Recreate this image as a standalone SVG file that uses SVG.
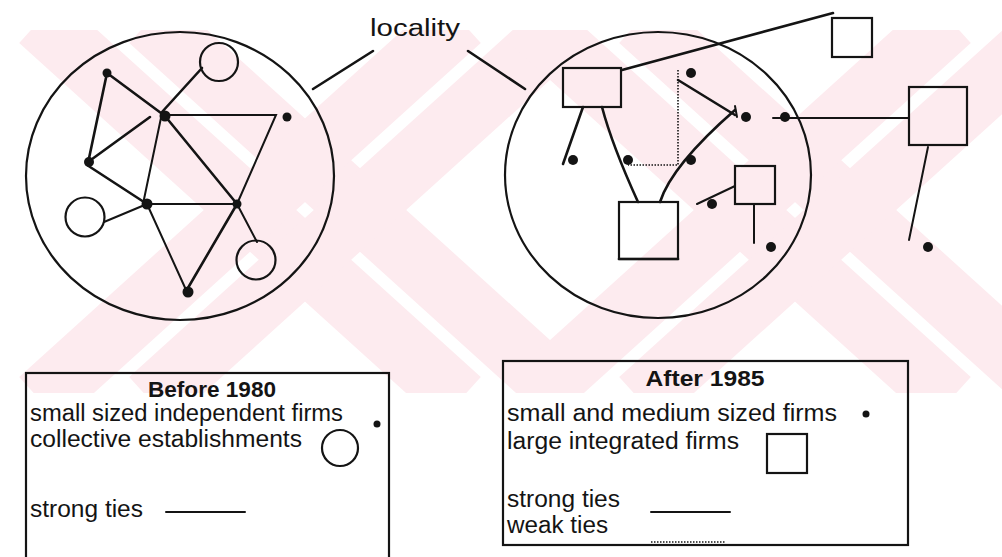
<svg xmlns="http://www.w3.org/2000/svg" width="1002" height="557" viewBox="0 0 1002 557">
<style>
.ln{stroke:#141414;stroke-width:2.6;fill:none;stroke-linecap:round}
.th{stroke-width:2}
.dt{fill:#141414}
.sh{fill:none;stroke:#141414;stroke-width:2.2}
.bx{fill:none;stroke:#141414;stroke-width:2.2}
.weak{stroke:#141414;stroke-width:1.6;stroke-dasharray:1.5 1.5;fill:none}
.lbl{font-family:"Liberation Sans",Arial,sans-serif;font-size:23.5px;fill:#141414}
.ttl{font-weight:bold;font-size:22.5px}
</style>
<defs>
<clipPath id="wmclip"><rect x="0" y="30" width="1002" height="363"/></clipPath>
</defs>
<rect width="1002" height="557" fill="#ffffff"/>
<g id="watermark" clip-path="url(#wmclip)">
<g stroke="#fdebef" stroke-width="62" fill="none">
<line x1="40" y1="20" x2="460" y2="400"/>
<line x1="150" y1="20" x2="570" y2="400"/>
<line x1="460" y1="20" x2="40" y2="400"/>
<line x1="570" y1="20" x2="150" y2="400"/>
<line x1="530" y1="20" x2="950" y2="400"/>
<line x1="640" y1="20" x2="1060" y2="400"/>
<line x1="950" y1="20" x2="530" y2="400"/>
<line x1="1060" y1="20" x2="640" y2="400"/>
</g>
</g>
<g id="locality">
<text class="lbl" x="370" y="36" font-size="28" textLength="90" lengthAdjust="spacingAndGlyphs">locality</text>
<line class="ln" x1="313" y1="89" x2="373" y2="51"/>
<line class="ln" x1="468" y1="51" x2="525" y2="89"/>
</g>
<g id="connectors">
<g id="before-edges">
<line class="ln" x1="107" y1="73" x2="165" y2="116"/>
<line class="ln" x1="107" y1="73" x2="88" y2="163"/>
<line class="ln" x1="88" y1="162" x2="150" y2="117"/>
<line class="ln" x1="87" y1="165" x2="147" y2="204"/>
<line class="ln" x1="162" y1="112" x2="202" y2="68"/>
<polyline class="ln th" points="165,115 276,115 237,204"/>
<line class="ln" x1="165" y1="116" x2="237" y2="204"/>
<line class="ln th" x1="162" y1="113" x2="143" y2="204"/>
<line class="ln th" x1="147" y1="204" x2="237" y2="204"/>
<line class="ln th" x1="147" y1="204" x2="104" y2="222"/>
<line class="ln th" x1="147" y1="204" x2="187" y2="292"/>
<line class="ln" x1="237" y1="204" x2="185" y2="293"/>
<line class="ln th" x1="237" y1="204" x2="257" y2="242"/>
</g>
<g id="after-edges">
<line class="ln" x1="622" y1="70" x2="833" y2="13"/>
<line class="ln th" x1="909" y1="118" x2="773" y2="118"/>
<line class="ln th" x1="928" y1="147" x2="909" y2="240"/>
<line class="ln" x1="583" y1="107" x2="563" y2="164"/>
<path class="ln" d="M602,107 Q612,145 638,202"/>
<path class="ln" d="M660,202 Q672,165 735,110"/>
<line class="ln th" x1="735" y1="106" x2="737" y2="117"/>
<line class="ln" x1="678" y1="80" x2="735" y2="115"/>
<polyline class="weak" points="678,70 678,165 628,165"/>
<line class="ln th" x1="735" y1="186" x2="697" y2="204"/>
<line class="ln th" x1="754" y1="204" x2="754" y2="243"/>
</g>
</g>
<g id="before">
<ellipse class="sh" cx="180" cy="176" rx="154" ry="144"/>
<circle id="n-a" class="dt" cx="107" cy="73" r="4.5"/>
<circle id="n-b" class="dt" cx="165" cy="116" r="5.5"/>
<circle id="n-c" class="dt" cx="287" cy="117" r="4.5"/>
<circle id="n-d" class="dt" cx="89" cy="162" r="5"/>
<circle id="n-e" class="dt" cx="147" cy="204" r="5.5"/>
<circle id="n-f" class="dt" cx="237" cy="204" r="4.5"/>
<circle id="n-g" class="dt" cx="188" cy="292" r="5.5"/>
<circle id="c-h" class="sh" cx="219" cy="62" r="19"/>
<circle id="c-i" class="sh" cx="85" cy="217" r="19.5"/>
<circle id="c-j" class="sh" cx="256" cy="260" r="19.5"/>
</g>
<g id="after">
<ellipse class="sh" cx="658" cy="175" rx="153" ry="143"/>
<rect id="r-k" class="sh" x="563" y="68" width="58" height="39"/>
<rect id="r-l" class="sh" x="832" y="18" width="40" height="39"/>
<rect id="r-m" class="sh" x="909" y="87" width="58" height="58"/>
<rect id="r-n" class="sh" x="619" y="202" width="59" height="57"/>
<line class="ln" x1="619" y1="259" x2="678" y2="259" stroke-width="3.5"/>
<rect id="r-o" class="sh" x="735" y="166" width="40" height="38"/>
<circle class="dt" cx="785" cy="117" r="5"/>
<circle class="dt" cx="746" cy="117" r="5"/>
<circle class="dt" cx="928" cy="247" r="5"/>
<circle class="dt" cx="573" cy="160" r="5"/>
<circle class="dt" cx="628" cy="160" r="5"/>
<circle class="dt" cx="691" cy="160" r="5"/>
<circle class="dt" cx="691" cy="73" r="5"/>
<circle class="dt" cx="712" cy="204" r="5"/>
<circle class="dt" cx="771" cy="247" r="5"/>
</g>
<g id="legend-before">
<rect class="bx" x="26" y="373" width="363" height="200"/>
<text class="lbl ttl" x="212" y="397" text-anchor="middle" textLength="128" lengthAdjust="spacingAndGlyphs">Before 1980</text>
<text class="lbl" x="30" y="421" textLength="313" lengthAdjust="spacingAndGlyphs">small sized independent firms</text>
<circle class="dt" cx="377" cy="424" r="3.5"/>
<text class="lbl" x="30" y="447" textLength="272" lengthAdjust="spacingAndGlyphs">collective establishments</text>
<circle class="sh" cx="340" cy="448" r="18"/>
<text class="lbl" x="30" y="517" textLength="113" lengthAdjust="spacingAndGlyphs">strong ties</text>
<line class="ln th" x1="166" y1="512" x2="245" y2="512"/>
</g>
<g id="legend-after">
<rect class="bx" x="503" y="361" width="405" height="184"/>
<text class="lbl ttl" x="705" y="386" text-anchor="middle" textLength="119" lengthAdjust="spacingAndGlyphs">After 1985</text>
<text class="lbl" x="507" y="421" textLength="330" lengthAdjust="spacingAndGlyphs">small and medium sized firms</text>
<circle class="dt" cx="866" cy="414" r="3.5"/>
<text class="lbl" x="507" y="449" textLength="232" lengthAdjust="spacingAndGlyphs">large integrated firms</text>
<rect class="sh" x="767" y="434" width="40" height="39"/>
<text class="lbl" x="507" y="507" textLength="113" lengthAdjust="spacingAndGlyphs">strong ties</text>
<line class="ln th" x1="651" y1="512" x2="730" y2="512"/>
<text class="lbl" x="507" y="533" textLength="101" lengthAdjust="spacingAndGlyphs">weak ties</text>
<line class="weak" x1="651" y1="542" x2="725" y2="542"/>
</g>
</svg>
